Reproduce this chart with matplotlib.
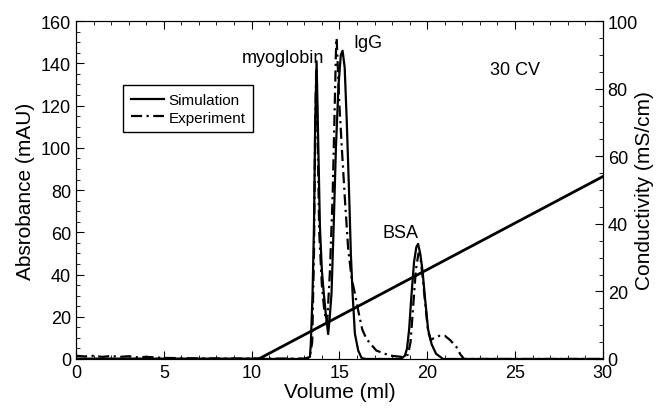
import matplotlib.pyplot as plt
from matplotlib.ticker import MultipleLocator

plt.rcParams['font.family'] = ['Liberation Sans', 'DejaVu Sans']

# simulation chromatogram (absorbance, mAU)
sim_x = [0, 13.0, 13.32, 13.37, 13.47, 13.55, 13.62, 13.70, 13.78, 13.89, 14.00, 14.11,
         14.24, 14.36, 14.45, 14.55, 14.68, 14.80, 14.95, 15.08, 15.18, 15.30, 15.42,
         15.56, 15.65, 15.75, 15.88, 16.07, 16.26, 16.5, 18.5, 18.73, 18.85, 18.97,
         19.10, 19.25, 19.38, 19.48, 19.60, 19.73, 19.86, 20.05, 20.25, 20.5, 20.9, 30]
sim_y = [0, 0, 1, 7, 31, 62.5, 112, 141, 108, 62.5, 42, 31,
         20, 11.8, 20, 31, 65, 100, 130, 144, 146, 138, 112,
         76, 50, 31, 12, 4, 0.5, 0, 0, 1.6, 5, 14,
         30, 46, 53, 54.5, 50, 42, 30, 14, 7, 2.5, 0, 0]

# experiment chromatogram (absorbance, mAU)
exp_x = [0, 0.5, 1.0, 1.5, 2.0, 2.5, 3.0, 3.5, 4.0, 5.0, 7.0, 10.0, 13.0, 13.3,
         13.45, 13.55, 13.62, 13.68, 13.75, 13.85, 14.0, 14.15, 14.30, 14.45, 14.61,
         14.72, 14.80, 14.84, 14.90, 15.0, 15.15, 15.31, 15.5, 15.7, 15.88, 16.07,
         16.3, 16.54, 17.1, 17.87, 18.54, 18.9, 19.05, 19.2, 19.35, 19.5, 19.6, 19.75,
         19.9, 20.05, 20.2, 20.4, 20.7, 21.0, 21.3, 21.67, 21.9, 22.1, 30]
exp_y = [1.5, 1.2, 1.5, 1.0, 1.4, 1.0, 1.3, 0.8, 1.0, 0.5, 0.3, 0.2, 0.2, 0.5,
         8, 50, 110, 138, 110, 60, 35, 22, 17, 40, 76,
         115, 145, 152, 140, 120, 98, 76, 52, 38, 31, 22.9,
         14, 9.5, 4, 1.6, 1.0, 2, 8, 25, 42, 50, 49, 38,
         25, 13, 9, 10, 11, 11, 9, 5.6, 2, 0, 0]

# conductivity gradient (mS/cm)
cond_x = [0, 10.4, 30]
cond_y = [0, 0, 54]

fig = plt.figure(figsize=(6.61, 4.10), dpi=100)
ax = fig.add_axes([0.115, 0.122, 0.797, 0.824])

ax.plot(sim_x, sim_y, color='black', lw=1.6, label='Simulation')
ax.plot(exp_x, exp_y, color='black', lw=1.6, linestyle=(0, (5, 2, 1, 2)), label='Experiment')

ax.set_xlim(0, 30)
ax.set_ylim(0, 160)
ax.xaxis.set_major_locator(MultipleLocator(5))
ax.xaxis.set_minor_locator(MultipleLocator(1))
ax.yaxis.set_major_locator(MultipleLocator(20))
ax.yaxis.set_minor_locator(MultipleLocator(5))
ax.tick_params(which='both', direction='in', top=True, labelsize=13)
ax.tick_params(which='major', length=6)
ax.tick_params(which='minor', length=3)
ax.set_xlabel('Volume (ml)', fontsize=15, labelpad=1)
ax.set_ylabel('Absrobance (mAU)', fontsize=15, labelpad=4)

ax2 = ax.twinx()
ax2.plot(cond_x, cond_y, color='black', lw=2)
ax2.set_ylim(0, 100)
ax2.yaxis.set_major_locator(MultipleLocator(20))
ax2.yaxis.set_minor_locator(MultipleLocator(5))
ax2.tick_params(which='both', direction='in', labelsize=13)
ax2.tick_params(which='major', length=6)
ax2.tick_params(which='minor', length=3)
ax2.set_ylabel('Conductivity (mS/cm)', fontsize=15, labelpad=-2)

ax.text(11.8, 143, 'myoglobin', fontsize=13, ha='center', va='center')
ax.text(16.6, 150, 'IgG', fontsize=13, ha='center', va='center')
ax.text(18.5, 60, 'BSA', fontsize=13, ha='center', va='center')
ax.text(25.0, 137, '30 CV', fontsize=13, ha='center', va='center')

leg = ax.legend(loc='upper left', bbox_to_anchor=(0.089, 0.81), borderaxespad=0,
                fancybox=False, edgecolor='black', framealpha=1, fontsize=11,
                handlelength=2.2, handletextpad=0.3, borderpad=0.5, labelspacing=0.25)
leg.get_frame().set_linewidth(1.0)

fig.savefig('out.png', dpi=100)
